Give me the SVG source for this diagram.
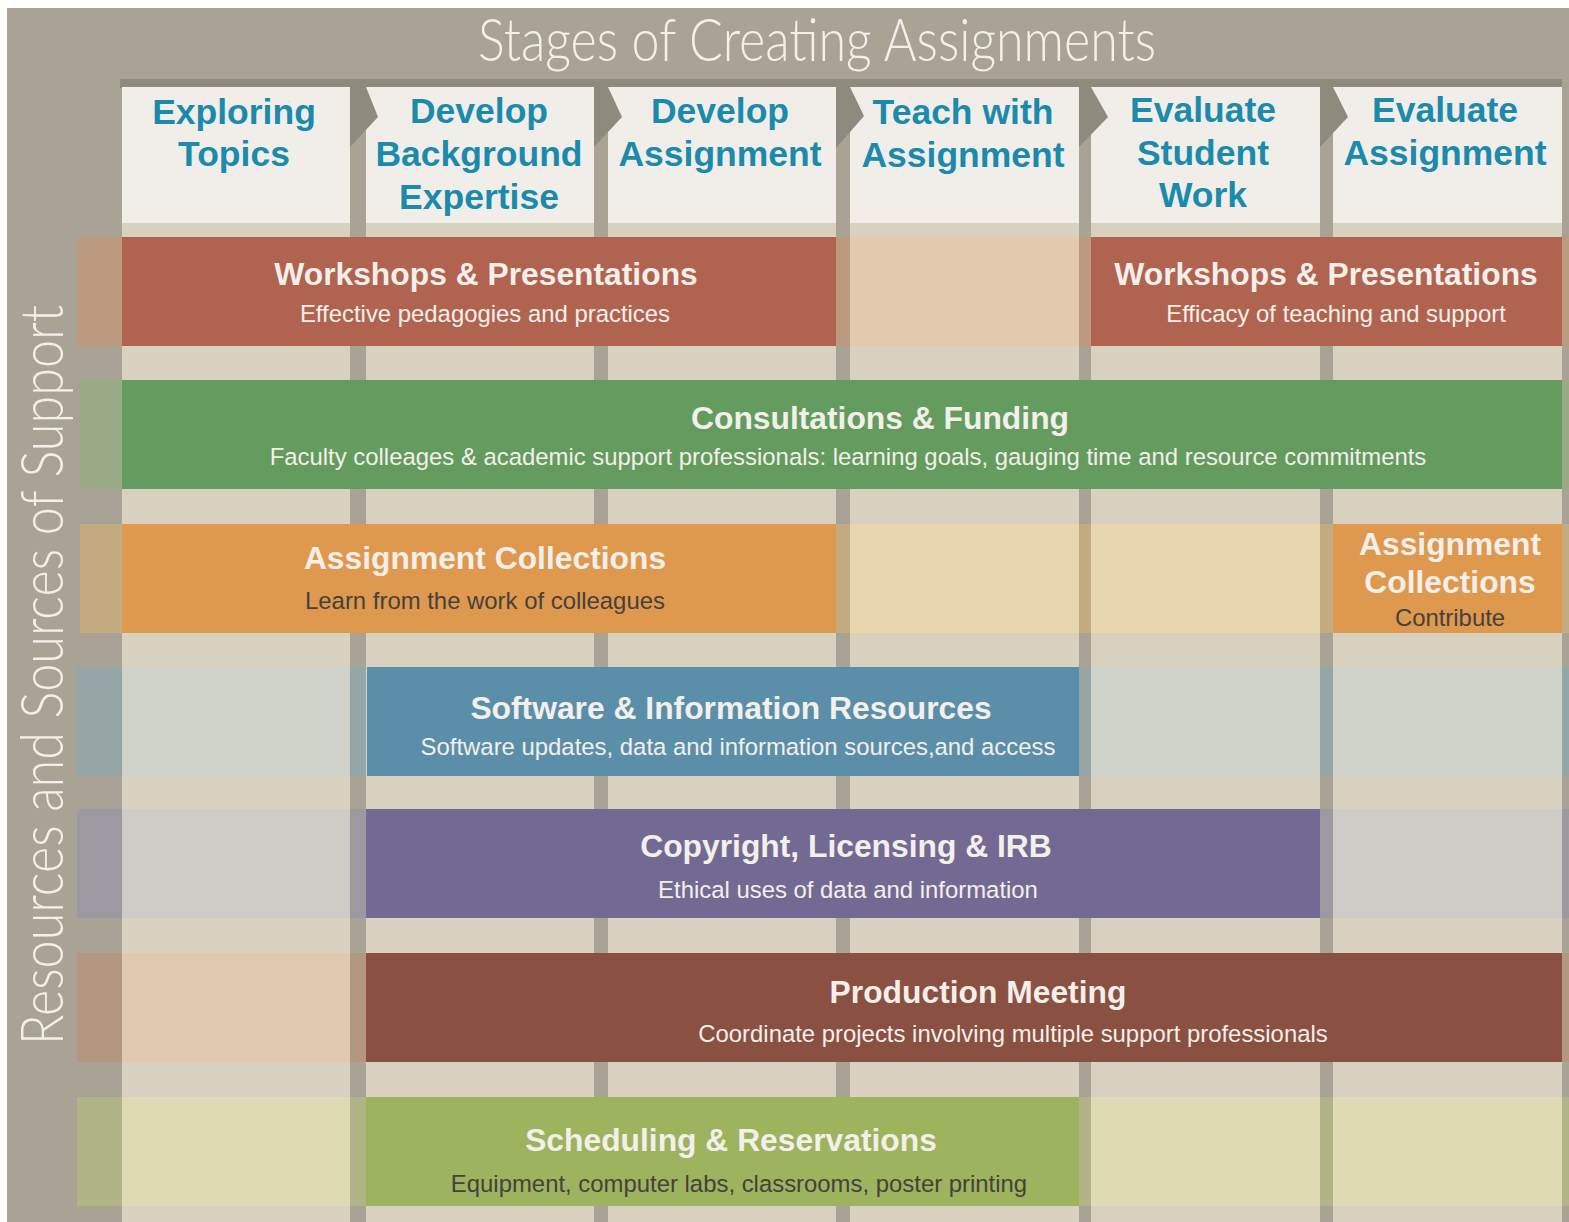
<svg xmlns="http://www.w3.org/2000/svg" width="1569" height="1222" viewBox="0 0 1569 1222">
  <style>
    .stage { font-family: "Liberation Sans", Arial, sans-serif; font-weight: bold; font-size: 35.5px; fill: #1b8aab; text-anchor: middle; }
    .ttl { font-family: "Liberation Sans", Arial, sans-serif; font-weight: bold; font-size: 31.8px; fill: #f3efea; text-anchor: middle; }
    .sub { font-family: "Liberation Sans", Arial, sans-serif; font-size: 23.9px; fill: #f3efea; text-anchor: middle; }
    .dark { fill: #46413c; }
    .light { font-family: "Lato", "Open Sans", sans-serif; font-weight: 300; fill: #f3efe9; }
    .head { fill: #f1eeea; }
    .sep { fill: #a9a396; }
    .arrow { fill: #8f8a7e; }
  </style>
  <defs>
    <!-- column separators and the outer stubs, used to shade each band where it crosses them -->
    <mask id="strips" maskUnits="userSpaceOnUse" x="0" y="0" width="1569" height="1222">
      <rect x="0" y="0" width="122" height="1222" fill="#fff"/>
      <rect x="350" y="0" width="16" height="1222" fill="#fff"/>
      <rect x="594" y="0" width="14" height="1222" fill="#fff"/>
      <rect x="836" y="0" width="14" height="1222" fill="#fff"/>
      <rect x="1079" y="0" width="12" height="1222" fill="#fff"/>
      <rect x="1320" y="0" width="13" height="1222" fill="#fff"/>
      <rect x="1562" y="0" width="7" height="1222" fill="#fff"/>
    </mask>
  </defs>

  <!-- frame -->
  <rect x="0" y="0" width="1569" height="1222" fill="#ffffff"/>
  <rect x="7" y="8" width="1562" height="1214" fill="#a9a396"/>
  <text class="light" x="817" y="61" font-size="60" text-anchor="middle" textLength="678" lengthAdjust="spacingAndGlyphs">Stages of Creating Assignments</text>
  <text class="light" transform="translate(63,675) rotate(-90)" font-size="60" text-anchor="middle" textLength="740" lengthAdjust="spacingAndGlyphs">Resources and Sources of Support</text>

  <!-- grid -->
  <rect x="120" y="79" width="1442" height="9" fill="#8f8a7e"/>
  <rect x="122" y="87" width="1440" height="1135" fill="#d8d1bf"/>
  <rect class="sep" x="350" y="87" width="16" height="1135"/>
  <rect class="sep" x="594" y="87" width="14" height="1135"/>
  <rect class="sep" x="836" y="87" width="14" height="1135"/>
  <rect class="sep" x="1079" y="87" width="12" height="1135"/>
  <rect class="sep" x="1320" y="87" width="13" height="1135"/>

  <!-- stage headers -->
  <g id="stage-exploring">
    <rect class="head" x="122" y="87" width="228" height="136"/>
    <text class="stage" x="234" y="124">Exploring</text>
    <text class="stage" x="234" y="166">Topics</text>
  </g>
  <g id="stage-background">
    <rect class="head" x="366" y="87" width="228" height="136"/>
    <text class="stage" x="479" y="123">Develop</text>
    <text class="stage" x="479" y="166">Background</text>
    <text class="stage" x="479" y="209">Expertise</text>
  </g>
  <g id="stage-develop">
    <rect class="head" x="608" y="87" width="228" height="136"/>
    <text class="stage" x="720" y="123">Develop</text>
    <text class="stage" x="720" y="166">Assignment</text>
  </g>
  <g id="stage-teach">
    <rect class="head" x="850" y="87" width="229" height="136"/>
    <text class="stage" x="963" y="124">Teach with</text>
    <text class="stage" x="963" y="167">Assignment</text>
  </g>
  <g id="stage-evaluate-work">
    <rect class="head" x="1091" y="87" width="229" height="136"/>
    <text class="stage" x="1203" y="122">Evaluate</text>
    <text class="stage" x="1203" y="165">Student</text>
    <text class="stage" x="1203" y="207">Work</text>
  </g>
  <g id="stage-evaluate-assignment">
    <rect class="head" x="1333" y="87" width="229" height="136"/>
    <text class="stage" x="1445" y="122">Evaluate</text>
    <text class="stage" x="1445" y="165">Assignment</text>
  </g>

  <!-- stage-to-stage arrows -->
  <g id="connectors">
    <polygon class="arrow" points="350,87 366,87 378,117 350,147"/>
    <polygon class="arrow" points="594,87 608,87 622,117 594,147"/>
    <polygon class="arrow" points="836,87 850,87 864,116 836,148"/>
    <polygon class="arrow" points="1079,87 1091,87 1108,117 1079,147"/>
    <polygon class="arrow" points="1320,87 1333,87 1348,117 1320,147"/>
  </g>

  <!-- support bands -->
  <g id="workshops">
    <rect x="77" y="237" width="1492" height="109" fill="#e3caae"/>
    <rect x="77" y="237" width="1492" height="109" fill="#bc9a80" mask="url(#strips)"/>
    <rect x="122" y="237" width="714" height="109" fill="#b06450"/>
    <rect x="1091" y="237" width="471" height="109" fill="#b06450"/>
    <text class="ttl" x="486" y="285">Workshops &amp; Presentations</text>
    <text class="sub" x="485" y="322">Effective pedagogies and practices</text>
    <text class="ttl" x="1326" y="285">Workshops &amp; Presentations</text>
    <text class="sub" x="1336" y="322">Efficacy of teaching and support</text>
  </g>

  <g id="consultations">
    <rect x="80" y="380" width="1489" height="109" fill="#c9d0b4"/>
    <rect x="80" y="380" width="1489" height="109" fill="#9aa986" mask="url(#strips)"/>
    <rect x="122" y="380" width="1440" height="109" fill="#649b5f"/>
    <text class="ttl" x="880" y="429">Consultations &amp; Funding</text>
    <text class="sub" x="848" y="465">Faculty colleages &amp; academic support professionals: learning goals, gauging time and resource commitments</text>
  </g>

  <g id="collections">
    <rect x="80" y="524" width="1489" height="109" fill="#e8d6ae"/>
    <rect x="80" y="524" width="1489" height="109" fill="#c4ab80" mask="url(#strips)"/>
    <rect x="122" y="524" width="714" height="109" fill="#df994f"/>
    <rect x="1333" y="524" width="229" height="109" fill="#df994f"/>
    <text class="ttl" x="485" y="569">Assignment Collections</text>
    <text class="sub dark" x="485" y="609">Learn from the work of colleagues</text>
    <text class="ttl" x="1450" y="555">Assignment</text>
    <text class="ttl" x="1450" y="593">Collections</text>
    <text class="sub dark" x="1450" y="626">Contribute</text>
  </g>

  <g id="software">
    <rect x="77" y="667" width="1492" height="109" fill="#cfd3ca"/>
    <rect x="77" y="667" width="1492" height="109" fill="#96a6a6" mask="url(#strips)"/>
    <rect x="367" y="667" width="712" height="109" fill="#5b8fa9"/>
    <text class="ttl" x="731" y="719">Software &amp; Information Resources</text>
    <text class="sub" x="738" y="755">Software updates, data and information sources,and access</text>
  </g>

  <g id="copyright">
    <rect x="77" y="809" width="1492" height="109" fill="#cfcbc6"/>
    <rect x="77" y="809" width="1492" height="109" fill="#9c99a0" mask="url(#strips)"/>
    <rect x="366" y="809" width="954" height="109" fill="#736a94"/>
    <text class="ttl" x="846" y="857">Copyright, Licensing &amp; IRB</text>
    <text class="sub" x="848" y="898">Ethical uses of data and information</text>
  </g>

  <g id="production">
    <rect x="77" y="953" width="1492" height="109" fill="#e0c9ae"/>
    <rect x="77" y="953" width="1492" height="109" fill="#b49780" mask="url(#strips)"/>
    <rect x="366" y="953" width="1196" height="109" fill="#8a5041"/>
    <text class="ttl" x="978" y="1003">Production Meeting</text>
    <text class="sub" x="1013" y="1042">Coordinate projects involving multiple support professionals</text>
  </g>

  <g id="scheduling">
    <rect x="77" y="1097" width="1492" height="109" fill="#dedab3"/>
    <rect x="77" y="1097" width="1492" height="109" fill="#b0b487" mask="url(#strips)"/>
    <rect x="366" y="1097" width="713" height="109" fill="#9eb35e"/>
    <text class="ttl" x="731" y="1151">Scheduling &amp; Reservations</text>
    <text class="sub dark" x="739" y="1192">Equipment, computer labs, classrooms, poster printing</text>
  </g>
</svg>
